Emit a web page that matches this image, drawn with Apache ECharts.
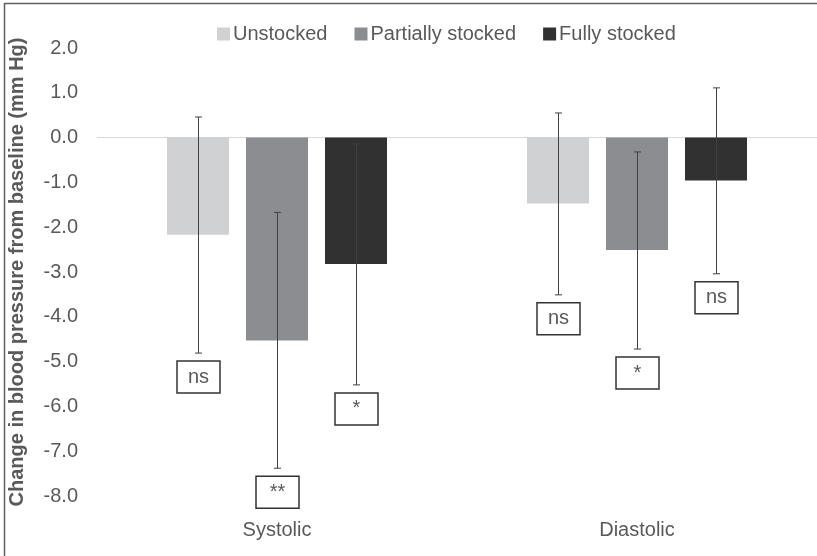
<!DOCTYPE html>
<html><head><meta charset="utf-8">
<script src="https://cdn.jsdelivr.net/npm/echarts@6/dist/echarts.min.js"></script>
<style>html,body{margin:0;padding:0;background:#fff}#c{width:817px;height:556px}</style>
</head><body><div id="c"></div>
<script>
const categories = ['Systolic', 'Diastolic'];
const seriesNames = ['Unstocked', 'Partially stocked', 'Fully stocked'];
const unstockedMean = [-2.17, -1.47];
const unstockedLow = [-4.81, -3.51];
const unstockedHigh = [0.46, 0.55];
const unstockedSig = ['ns', 'ns'];
const partialMean = [-4.53, -2.51];
const partialLow = [-7.38, -4.72];
const partialHigh = [-1.67, -0.32];
const partialSig = ['**', '*'];
const fullMean = [-2.82, -0.96];
const fullLow = [-5.52, -3.04];
const fullHigh = [-0.14, 1.11];
const fullSig = ['*', 'ns'];

const FONT = "'Liberation Sans', Arial, sans-serif";
const TXT = '#595959';
const colors = ['#d0d1d3', '#8c8d90', '#323132'];
const BAR_W = 62, BAR_GAP = 17;

const means = [unstockedMean, partialMean, fullMean];
const lows = [unstockedLow, partialLow, fullLow];
const highs = [unstockedHigh, partialHigh, fullHigh];
const sigs = [unstockedSig, partialSig, fullSig];

function barSeries(i) {
  const s = {
    type: 'bar', name: seriesNames[i], data: means[i],
    barWidth: BAR_W, barGap: (BAR_GAP / BAR_W * 100) + '%',
    itemStyle: { color: colors[i] }, silent: true, z: 2
  };
  if (i === 0) {
    s.markLine = {
      silent: true, symbol: ['none', 'none'], label: { show: false },
      lineStyle: { color: '#d9d9d9', width: 1, type: 'solid' },
      data: [{ yAxis: 0 }], z: 1
    };
  }
  return s;
}

function errSeries(i) {
  return {
    type: 'custom', name: 'err' + i, silent: true, z: 10,
    data: categories.map((c, k) => [k, lows[i][k], highs[i][k]]),
    encode: { x: 0, y: [1, 2] },
    renderItem: function (params, api) {
      const ci = api.value(0);
      const off = (i - 1) * (BAR_W + BAR_GAP);
      const top = api.coord([ci, api.value(2)]);
      const bot = api.coord([ci, api.value(1)]);
      const x = Math.round(top[0] + off) + 0.5;
      const cap = 3.5;
      const ls = { stroke: '#404040', lineWidth: 1 };
      const bw = 43, bh = 32, by = bot[1] + 8;
      return {
        type: 'group',
        children: [
          { type: 'line', shape: { x1: x, y1: top[1], x2: x, y2: bot[1] }, style: ls },
          { type: 'line', shape: { x1: x - cap, y1: top[1], x2: x + cap, y2: top[1] }, style: ls },
          { type: 'line', shape: { x1: x - cap, y1: bot[1], x2: x + cap, y2: bot[1] }, style: ls },
          { type: 'rect', shape: { x: x - bw / 2, y: by, width: bw, height: bh },
            style: { fill: '#fff', stroke: '#333', lineWidth: 1.5 } },
          { type: 'text', style: { text: sigs[i][params.dataIndex], x: x, y: by + bh / 2,
            align: 'center', verticalAlign: 'middle', fontSize: 20, fontFamily: FONT, fill: TXT } }
        ]
      };
    }
  };
}

const chart = echarts.init(document.getElementById('c'), null, { renderer: 'canvas' });
chart.setOption({
  animation: false,
  backgroundColor: '#fff',
  textStyle: { fontFamily: FONT },
  legend: {
    data: seriesNames, left: 212, top: 19, itemWidth: 13, itemHeight: 13, itemGap: 27,
    icon: 'rect', textStyle: { fontSize: 20, color: TXT, fontFamily: FONT, padding: [0, 0, 0, -2] }
  },
  grid: { left: 97, right: 0, top: 48, bottom: 60, containLabel: false, outerBoundsMode: 'none' },
  xAxis: {
    type: 'category', data: categories,
    axisLine: { show: false }, axisTick: { show: false },
    axisLabel: { fontSize: 20, color: TXT, margin: 24, fontFamily: FONT }
  },
  yAxis: {
    type: 'value', min: -8, max: 2, interval: 1,
    name: 'Change in blood pressure from baseline (mm Hg)',
    nameLocation: 'middle', nameGap: 70,
    nameTextStyle: { fontSize: 20, fontWeight: 'bold', color: TXT, fontFamily: FONT },
    axisLine: { show: false }, axisTick: { show: false }, splitLine: { show: false },
    axisLabel: { fontSize: 20, color: TXT, margin: 19, fontFamily: FONT,
      formatter: v => v.toFixed(1) }
  },
  graphic: [
    { type: 'line', shape: { x1: 4, y1: 3.5, x2: 817, y2: 3.5 }, style: { stroke: '#606060', lineWidth: 1.5 } },
    { type: 'line', shape: { x1: 4.5, y1: 3, x2: 4.5, y2: 556 }, style: { stroke: '#606060', lineWidth: 1.5 } }
  ],
  series: [0, 1, 2].map(barSeries).concat([0, 1, 2].map(errSeries))
});
</script>
</body></html>
